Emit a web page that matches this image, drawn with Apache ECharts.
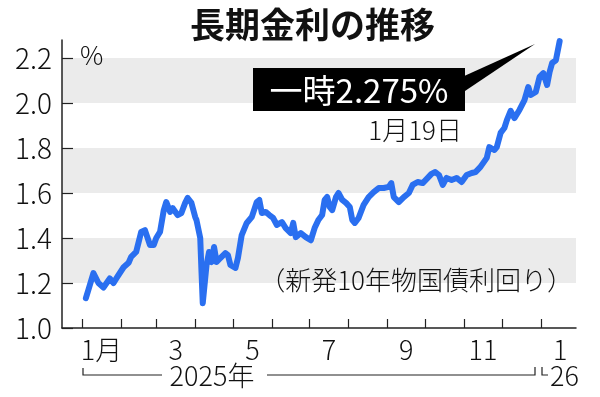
<!DOCTYPE html>
<html lang="ja">

<head>
    <meta charset="UTF-8">
    <title>長期金利の推移</title>
    <style>
        html,
        body {
            margin: 0;
            padding: 0;
            width: 600px;
            height: 397px;
            background: #fff;
        }
    </style>
</head>

<body>
    <div id="main" style="width: 600px;height:397px;"></div>
    <script src="https://cdn.jsdelivr.net/npm/echarts@6/dist/echarts.min.js"></script>
    <script type="text/javascript">
        // days counted from 2025-01-01
        var days = [3, 5, 9, 13, 17, 22, 25, 28, 33, 37, 39, 43, 47, 50, 54, 57, 59, 62, 65, 67,
            70, 72, 76, 79, 82, 84, 87, 90, 91, 94, 95, 96, 99, 101, 103, 105, 107, 110, 114, 116,
            118, 122, 124, 127, 131, 135, 139, 141, 143, 146, 149, 152, 155, 159, 162, 166, 168, 170, 174, 178,
            182, 185, 188, 191, 193, 195, 197, 199, 202, 204, 207, 210, 213, 215, 217, 220, 224, 228, 232, 236,
            240, 244, 246, 248, 252, 256, 260, 263, 267, 271, 275, 278, 281, 284, 287, 290, 294, 298, 302, 306,
            310, 313, 317, 322, 324, 328, 330, 333, 336, 338, 341, 344, 348, 352, 355, 357, 361, 364, 367, 370,
            372, 374, 377, 380];
        var yields = [1.133, 1.169, 1.244, 1.20, 1.18, 1.22, 1.20, 1.227, 1.27, 1.29, 1.316, 1.338, 1.427, 1.435, 1.369, 1.369, 1.40, 1.427, 1.524, 1.56,
            1.516, 1.533, 1.502, 1.511, 1.556, 1.578, 1.556, 1.493, 1.48, 1.40, 1.25, 1.11, 1.28, 1.338, 1.293, 1.36, 1.293, 1.311, 1.333, 1.324,
            1.28, 1.267, 1.311, 1.413, 1.467, 1.493, 1.56, 1.569, 1.511, 1.516, 1.502, 1.489, 1.458, 1.471, 1.444, 1.422, 1.467, 1.404, 1.422, 1.404,
            1.39, 1.444, 1.48, 1.502, 1.569, 1.582, 1.538, 1.524, 1.582, 1.60, 1.569, 1.556, 1.538, 1.48, 1.467, 1.489, 1.547, 1.582, 1.604, 1.622,
            1.622, 1.627, 1.644, 1.582, 1.56, 1.582, 1.60, 1.636, 1.649, 1.644, 1.667, 1.685, 1.693, 1.68, 1.636, 1.667, 1.658, 1.667, 1.649, 1.68,
            1.689, 1.693, 1.716, 1.756, 1.804, 1.791, 1.804, 1.867, 1.889, 1.924, 1.965, 1.933, 1.969, 2.013, 2.071, 2.036, 2.049, 2.116, 2.133, 2.08,
            2.138, 2.178, 2.19, 2.275];
        // month starts (ticks) and odd-month labels
        var tickDays = [0, 31, 59, 90, 120, 151, 181, 212, 243, 273, 304, 334, 365];
        var labelDays = [15.5, 74.5, 135.5, 196.5, 258, 319, 380.5];
        var labelTexts = ['1月', '3', '5', '7', '9', '11', '1'];
        var yTicks = [1.0, 1.2, 1.4, 1.6, 1.8, 2.0, 2.2];

        var font = '"Noto Sans CJK JP", "Noto Sans", sans-serif';
        var myChart = echarts.init(document.getElementById('main'));

        var points = [];
        for (var i = 0; i < days.length; i++) {
            points.push([days[i], yields[i]]);
        }

        option = {
            animation: false,
            backgroundColor: '#fff',
            title: {
                text: '長期金利の推移',
                left: 185,
                top: 2,
                textStyle: {
                    fontFamily: font,
                    fontSize: 35,
                    fontWeight: 'bold',
                    color: '#111'
                }
            },
            grid: {
                left: 62,
                right: 24,
                top: 40,
                bottom: 69
            },
            xAxis: {
                type: 'value',
                min: -16,
                max: 393,
                splitLine: { show: false },
                axisLine: {
                    onZero: false,
                    lineStyle: { color: '#222', width: 1.5 }
                },
                axisTick: {
                    inside: true,
                    length: 9,
                    customValues: tickDays,
                    lineStyle: { color: '#222', width: 1.2 }
                },
                axisLabel: {
                    customValues: labelDays,
                    margin: 8,
                    color: '#111',
                    fontFamily: font,
                    fontWeight: 300,
                    fontSize: 27,
                    formatter: function (v) {
                        var k = labelDays.indexOf(v);
                        return k >= 0 ? labelTexts[k] : '';
                    }
                }
            },
            yAxis: {
                type: 'value',
                min: 1.0,
                max: 2.28,
                interval: 0.2,
                splitLine: { show: false },
                splitArea: {
                    show: true,
                    areaStyle: { color: ['#ffffff', '#ebebeb'] }
                },
                axisLine: {
                    show: true,
                    onZero: false,
                    lineStyle: { color: '#222', width: 1.5 }
                },
                axisTick: {
                    show: true,
                    inside: true,
                    length: 11,
                    customValues: yTicks,
                    lineStyle: { color: '#222', width: 1.2 }
                },
                axisLabel: {
                    customValues: yTicks,
                    margin: 10,
                    color: '#111',
                    fontFamily: font,
                    fontWeight: 300,
                    fontSize: 28,
                    formatter: function (v) {
                        return v.toFixed(1);
                    }
                }
            },
            graphic: {
                elements: [
                    {
                        type: 'text', left: 80, top: 42, z: 100,
                        style: { text: '%', font: '300 26px ' + font, fill: '#111' }
                    },
                    {
                        type: 'polygon', z: 100,
                        shape: { points: [[462, 77], [462, 93], [535, 44]] },
                        style: { fill: '#000' }
                    },
                    {
                        type: 'rect', z: 100,
                        shape: { x: 253, y: 68, width: 212, height: 43 },
                        style: { fill: '#000' }
                    },
                    {
                        type: 'text', x: 359, y: 90, z: 101,
                        style: {
                            text: '一時2.275%', font: '33px ' + font, fill: '#fff',
                            align: 'center', verticalAlign: 'middle'
                        }
                    },
                    {
                        type: 'text', x: 462, y: 130, z: 100,
                        style: {
                            text: '1月19日', font: '300 26px ' + font, fill: '#111',
                            align: 'right', verticalAlign: 'middle'
                        }
                    },
                    {
                        type: 'text', x: 573, y: 280, z: 100,
                        style: {
                            text: '（新発10年物国債利回り）', font: '300 26px ' + font, fill: '#111',
                            align: 'right', verticalAlign: 'middle'
                        }
                    },
                    // year bracket
                    {
                        type: 'polyline', z: 100,
                        shape: { points: [[83, 368], [83, 375], [162, 375]] },
                        style: { stroke: '#222', lineWidth: 1.2, fill: null }
                    },
                    {
                        type: 'text', x: 212, y: 376, z: 100,
                        style: {
                            text: '2025年', font: '300 27px ' + font, fill: '#111',
                            align: 'center', verticalAlign: 'middle'
                        }
                    },
                    {
                        type: 'polyline', z: 100,
                        shape: { points: [[267, 375], [535, 375], [535, 367]] },
                        style: { stroke: '#222', lineWidth: 1.2, fill: null }
                    },
                    {
                        type: 'polyline', z: 100,
                        shape: { points: [[542, 367], [542, 375], [548, 375]] },
                        style: { stroke: '#222', lineWidth: 1.2, fill: null }
                    },
                    {
                        type: 'text', x: 550, y: 376, z: 100,
                        style: {
                            text: '26', font: '300 27px ' + font, fill: '#111',
                            align: 'left', verticalAlign: 'middle'
                        }
                    }
                ]
            },
            series: [{
                name: '長期金利',
                type: 'line',
                symbol: 'none',
                z: 50,
                data: points,
                lineStyle: {
                    color: '#2a6ff0',
                    width: 6,
                    join: 'round',
                    cap: 'round'
                }
            }]
        };
        myChart.setOption(option);
    </script>
</body>

</html>
